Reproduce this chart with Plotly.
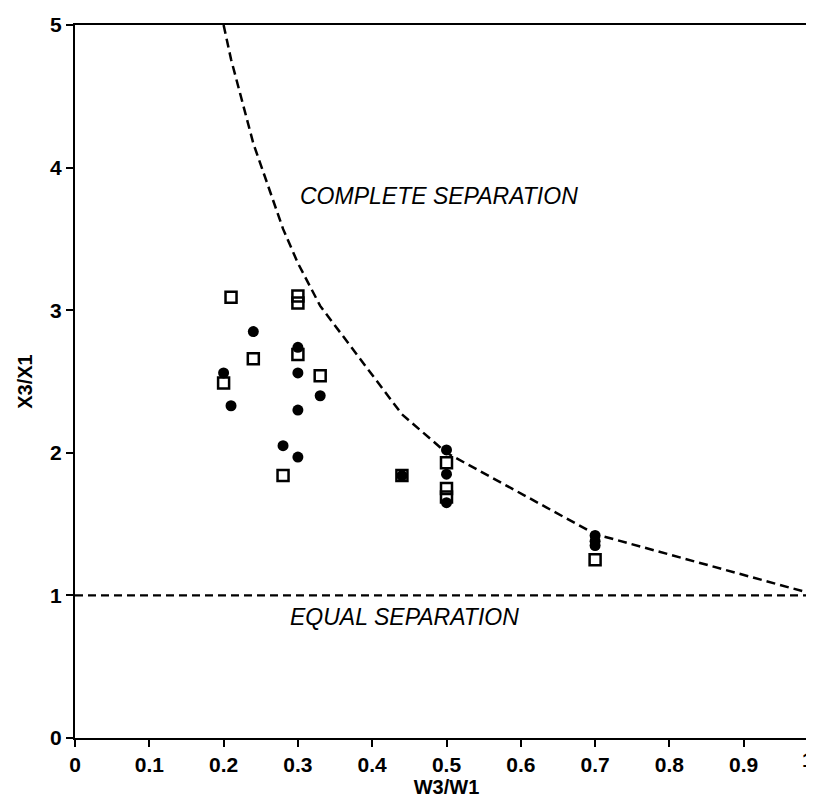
import plotly.graph_objects as go

# Open squares
sq_x = [0.21, 0.30, 0.30, 0.24, 0.30, 0.33, 0.20, 0.28, 0.44, 0.50, 0.50, 0.50, 0.70]
sq_y = [3.09, 3.10, 3.05, 2.66, 2.69, 2.54, 2.49, 1.84, 1.84, 1.93, 1.75, 1.69, 1.25]

# Filled points
fl_x = [0.24, 0.30, 0.20, 0.30, 0.33, 0.21, 0.30, 0.28, 0.30, 0.44, 0.50, 0.50, 0.50, 0.70, 0.70, 0.70]
fl_y = [2.85, 2.74, 2.56, 2.56, 2.40, 2.33, 2.30, 2.05, 1.97, 1.84, 2.02, 1.85, 1.65, 1.42, 1.38, 1.35]

# Complete separation curve
cs_x = [0.20, 0.21, 0.24, 0.28, 0.30, 0.33, 0.44, 0.50, 0.70, 1.00]
cs_y = [5.00, 4.76, 4.17, 3.57, 3.33, 3.03, 2.27, 2.00, 1.43, 1.00]

# Equal separation line
eq_x = [0.0, 1.0]
eq_y = [1.0, 1.0]

x_ticks = [0, 0.1, 0.2, 0.3, 0.4, 0.5, 0.6, 0.7, 0.8, 0.9, 1.0]
x_tick_text = ["0", "0.1", "0.2", "0.3", "0.4", "0.5", "0.6", "0.7", "0.8", "0.9", "1"]
y_ticks = [0, 1, 2, 3, 4, 5]

FONT = "Liberation Sans, Arial, Helvetica"
TICKFONT = dict(family=FONT, size=21, color="black", weight="bold")

fig = go.Figure()
fig.add_trace(go.Scatter(x=cs_x, y=cs_y, mode="lines",
                         line=dict(color="black", width=2.5, dash="9px,5px"),
                         showlegend=False, hoverinfo="skip"))
fig.add_trace(go.Scatter(x=eq_x, y=eq_y, mode="lines",
                         line=dict(color="black", width=2.3, dash="8px,5px"),
                         showlegend=False, hoverinfo="skip"))
fig.add_trace(go.Scatter(x=sq_x, y=sq_y, mode="markers",
                         marker=dict(symbol="square-open", size=11, color="black",
                                     line=dict(width=2.5, color="black")),
                         showlegend=False))
fig.add_trace(go.Scatter(x=fl_x, y=fl_y, mode="markers",
                         marker=dict(symbol="circle", size=11, color="black"),
                         showlegend=False))

fig.add_annotation(x=0.49, y=3.8, text="<i>COMPLETE SEPARATION</i>", showarrow=False,
                   font=dict(family=FONT, size=23, color="black"))
fig.add_annotation(x=0.443, y=0.85, text="<i>EQUAL SEPARATION</i>", showarrow=False,
                   font=dict(family=FONT, size=23, color="black"))

# last x tick label sits at the right edge: keep it inside the page
shown_text = x_tick_text[:-1] + [""]
fig.add_annotation(x=x_ticks[-1], xref="x", y=0, yref="paper", yanchor="top",
                   xanchor="right", xshift=-3, yshift=-9, borderpad=0,
                   text=x_tick_text[-1], showarrow=False, font=TICKFONT)

axis_common = dict(showgrid=False, zeroline=False, showline=True, linecolor="black",
                   linewidth=2, ticks="outside", ticklen=7, tickwidth=2, tickcolor="black",
                   mirror=True, tickfont=TICKFONT)

fig.update_layout(
    width=814, height=797,
    margin=dict(l=67, r=2, t=17, b=67),
    paper_bgcolor="white", plot_bgcolor="white",
    font=dict(family=FONT, color="black"),
    xaxis=dict(range=[0, 1.0], tickvals=x_ticks, ticktext=shown_text,
               title=dict(text="W3/W1", font=dict(size=20, weight="bold"), standoff=2),
               **axis_common),
    yaxis=dict(range=[0, 5], tickvals=y_ticks,
               title=dict(text="X3/X1", font=dict(size=20, weight="bold"), standoff=12),
               **axis_common),
)

fig.write_html("out.html")
